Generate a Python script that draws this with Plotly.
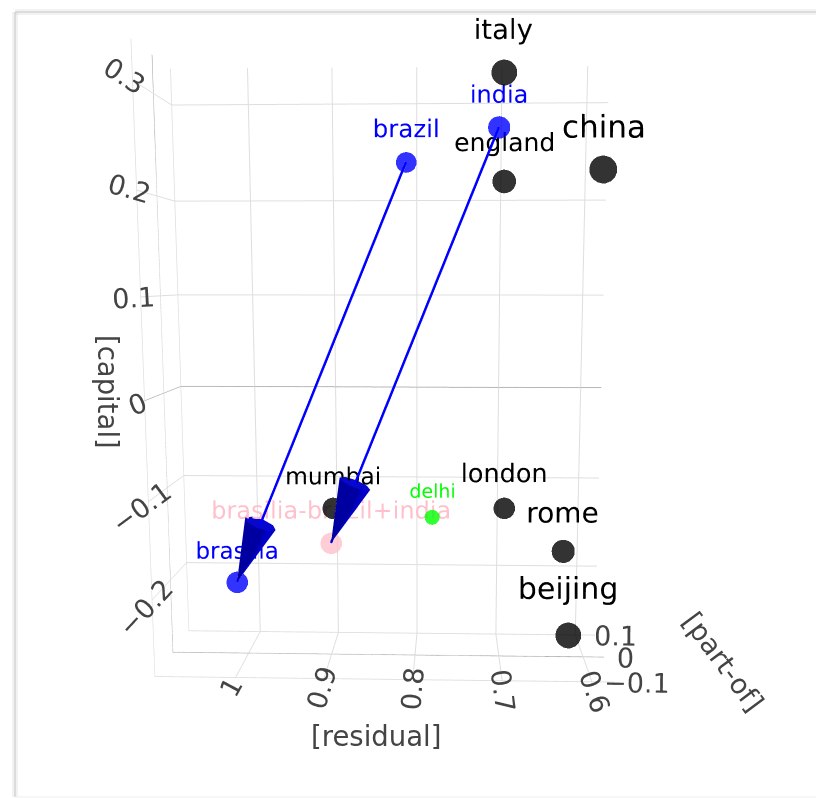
import plotly.graph_objects as go

# ---- data ----
words = ["italy", "india", "brazil", "england", "china", "mumbai", "delhi",
         "london", "rome", "beijing", "brasilia", "brasilia-brazil+india"]
residual = [0.7015, 0.7064, 0.8097, 0.7002, 0.5905, 0.8962, 0.7800, 0.6959, 0.6263, 0.6184, 1.0119, 0.8991]
part_of = [0.0, 0.0, 0.0, 0.0, 0.0, 0.0, 0.0, 0.0, 0.0, 0.0, 0.0, 0.0]
capital = [0.3184, 0.2660, 0.2325, 0.2137, 0.2251, -0.1205, -0.1294, -0.1192, -0.1647, -0.2560, -0.2015, -0.1581]

arrow_from = ["brazil", "india"]
arrow_to = ["brasilia", "brasilia-brazil+india"]

x_ticks = [1, 0.9, 0.8, 0.7, 0.6]
y_ticks = [0.1, 0, -0.1]
z_ticks = [-0.2, -0.1, 0, 0.1, 0.2, 0.3]

axis_titles = ["[residual]", "[part-of]", "[capital]"]

# ---- styles ----
point_colors = ["black", "blue", "blue", "black", "black", "black", "lime",
                "black", "black", "black", "blue", "pink"]
marker_sizes = [15, 13, 12, 13.7, 16.2, 12.5, 8.7, 12.5, 13.5, 15, 12.5, 12.5]
text_sizes = [27.5, 24, 24.5, 25, 31, 23.4, 19, 25.5, 28, 30, 23, 24]

fig = go.Figure()

idx = {w: i for i, w in enumerate(words)}
for a, b in zip(arrow_from, arrow_to):
    i, j = idx[a], idx[b]
    fig.add_trace(go.Scatter3d(
        x=[residual[i], residual[j]], y=[part_of[i], part_of[j]], z=[capital[i], capital[j]],
        mode="lines", line=dict(color="blue", width=5), showlegend=False, hoverinfo="skip"))
    fig.add_trace(go.Cone(
        x=[residual[j]], y=[part_of[j]], z=[capital[j]],
        u=[residual[j] - residual[i]], v=[part_of[j] - part_of[i]], w=[capital[j] - capital[i]],
        anchor="tip", sizemode="absolute", sizeref=0.07,
        colorscale=[[0, "rgb(0,0,200)"], [1, "rgb(0,0,200)"]], showscale=False))

for k, w in enumerate(words):
    fig.add_trace(go.Scatter3d(
        x=[residual[k]], y=[part_of[k]], z=[capital[k]],
        mode="markers+text", text=[w], textposition="top center",
        marker=dict(size=marker_sizes[k], color=point_colors[k], opacity=0.8),
        textfont=dict(color=point_colors[k], size=text_sizes[k]),
        showlegend=False))

axis_style = dict(
    showbackground=False, gridcolor="rgb(222,222,222)", zerolinecolor="rgb(140,140,140)",
    tickfont=dict(size=18, color="#444"), title=dict(text=""),
)
title_font = dict(family="DejaVu Sans", size=27.5, color="#444")

card = "rgb(212,212,212)"
soft = "rgba(0,0,0,0.05)"

fig.update_layout(
    width=824, height=798,
    margin=dict(l=0, r=0, t=0, b=0),
    font=dict(family="DejaVu Sans"),
    paper_bgcolor="white",
    scene=dict(
        xaxis=dict(range=[1.0917, 0.575], tickvals=x_ticks, **axis_style),
        yaxis=dict(range=[-0.1, 0.1], tickvals=y_ticks, **axis_style),
        zaxis=dict(range=[-0.28, 0.337], tickvals=z_ticks, **axis_style),
        aspectmode="manual", aspectratio=dict(x=0.7529, y=0.2088, z=1.0088),
        camera=dict(eye=dict(x=0.1049, y=-1.6060, z=0.1430),
                    center=dict(x=0.0573, y=0, z=-0.0687)),
    ),
    annotations=[
        dict(text=axis_titles[0], x=0.4466, y=0.0877, xref="paper", yref="paper",
             xanchor="center", yanchor="middle", showarrow=False, font=title_font),
        dict(text=axis_titles[1], x=0.8689, y=0.1805, xref="paper", yref="paper",
             xanchor="center", yanchor="middle", showarrow=False, font=title_font, textangle=53.5),
        dict(text=axis_titles[2], x=0.1214, y=0.5188, xref="paper", yref="paper",
             xanchor="center", yanchor="middle", showarrow=False, font=title_font, textangle=90),
    ],
    shapes=[
        dict(type="line", xref="paper", yref="paper", x0=0.0085, x1=0.0085, y0=0.0113, y1=0.995,
             line=dict(color=soft, width=6)),
        dict(type="line", xref="paper", yref="paper", x0=0.0085, x1=1.0, y0=0.995, y1=0.995,
             line=dict(color=soft, width=6)),
        dict(type="line", xref="paper", yref="paper", x0=0.0085, x1=0.0085, y0=0.0113, y1=0.995,
             line=dict(color=card, width=1.5)),
        dict(type="line", xref="paper", yref="paper", x0=0.0085, x1=1.0, y0=0.995, y1=0.995,
             line=dict(color=card, width=1.5)),
        dict(type="line", xref="paper", yref="paper", x0=0.0085, x1=1.0, y0=0.0113, y1=0.0113,
             line=dict(color="rgb(238,238,238)", width=1)),
    ],
)

fig.write_html("out.html")
